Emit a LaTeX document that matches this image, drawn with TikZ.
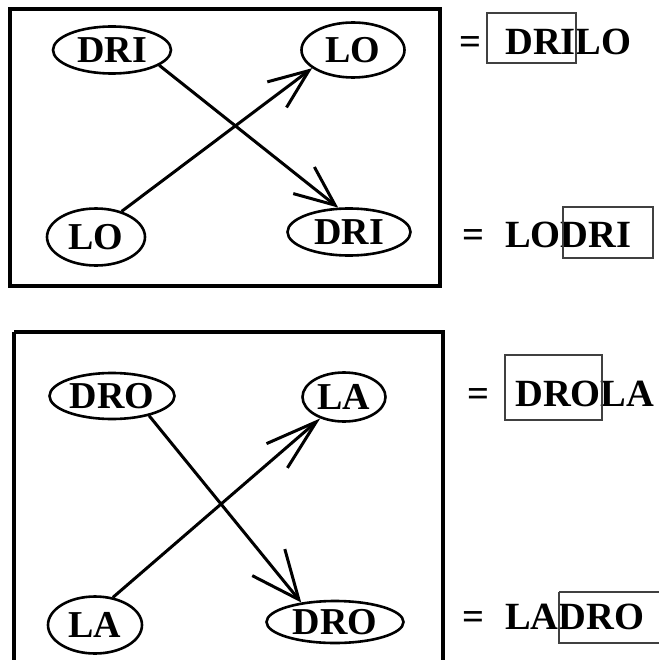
\documentclass[tikz,border=0pt]{standalone}
\usepackage{fontspec}
\setmainfont{Liberation Serif}
\usetikzlibrary{shapes.geometric,arrows.meta}
\begin{document}
\begin{tikzpicture}[x=1pt,y=-1pt,
  oval/.style={ellipse,draw,line width=2.6pt,inner sep=0pt,font=\fontsize{38}{40}\selectfont\bfseries},
  word/.style={anchor=base west,inner sep=0pt,font=\fontsize{38.5}{40}\selectfont\bfseries},
  frame/.style={draw,line width=4pt},
  hl/.style={draw=black!75,line width=1.3pt},
  arr/.style={line width=3pt,-{Straight Barb[length=#1,line width=3pt]}},
]
\useasboundingbox (0,0) rectangle (658,660);
% frames
\draw[frame] (10,9) rectangle (440,286);
\draw[frame] (14,332) -- (14,665);
\draw[frame] (14,332) -- (443,332) -- (443,665);
% top diagram
\node[oval,minimum width=118pt,minimum height=47pt] (a1) at (112,50) {DRI};
\node[oval,minimum width=103pt,minimum height=55pt] (b1) at (353,50) {LO};
\node[oval,minimum width=98pt,minimum height=57pt] (c1) at (96,237) {LO};
\node[oval,minimum width=123pt,minimum height=47pt] (d1) at (349,232) {DRI};
\draw[arr={40pt, width=34pt}] (a1.-18) -- (d1.114);
\draw[arr={40pt, width=32pt}] (c1.45) -- (b1.204);
% bottom diagram
\node[oval,minimum width=125pt,minimum height=46pt] (a2) at (112,396) {DRO};
\node[oval,minimum width=83pt,minimum height=49pt] (b2) at (344,397) {LA};
\node[oval,minimum width=94pt,minimum height=57pt] (c2) at (95,625) {LA};
\node[oval,minimum width=137pt,minimum height=42pt] (d2) at (335,622) {DRO};
\draw[arr={48pt, width=42pt}] (a2.-28) -- (d2.150);
\draw[arr={52pt, width=32pt}] (c2.57) -- (b2.222);
% right-hand equations
\node[word] (e1) at (459,55) {=};
\node[word] (t1) at (505,55) {DRILO};
\draw[hl] (487,13) rectangle (576,63);
\node[word] (e2) at (462,247) {=};
\node[word] (t2) at (505,247) {LODRI};
\draw[hl] (563,207) rectangle (653,258);
\node[word] (e3) at (467,406) {=};
\node[word] (t3) at (515,406) {DROLA};
\draw[hl] (505,355) rectangle (602,420);
\node[word] (e4) at (462,629) {=};
\node[word] (t4) at (505,629) {LADRO};
\draw[hl] (559,592) -- (665,592);
\draw[hl] (559,592) -- (559,643) -- (665,643);
\end{tikzpicture}
\end{document}
